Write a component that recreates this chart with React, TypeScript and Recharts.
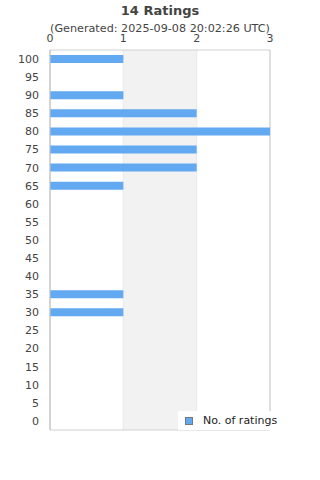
import React from "react";
import {
  BarChart,
  Bar,
  XAxis,
  YAxis,
  CartesianGrid,
  ReferenceArea,
} from "recharts";

const ratingBins = [
  "100", "95", "90", "85", "80", "75", "70", "65", "60", "55", "50",
  "45", "40", "35", "30", "25", "20", "15", "10", "5", "0",
];
const ratingCounts = [1, 0, 1, 2, 3, 2, 2, 1, 0, 0, 0, 0, 0, 1, 1, 0, 0, 0, 0, 0, 0];
const countTicks = [0, 1, 2, 3];

const data = ratingBins.map((bin, i) => ({ bin, count: ratingCounts[i] }));

const BAR = "#62a9f2";
const FONT = "'DejaVu Sans', sans-serif";

const LegendBox = () => (
  <div
    style={{
      position: "absolute",
      left: 178,
      top: 411,
      background: "#fff",
      width: 102,
      height: 19,
      display: "flex",
      alignItems: "center",
      fontFamily: FONT,
      fontSize: 11,
      color: "#222",
    }}
  >
    <span
      style={{
        display: "inline-block",
        width: 6,
        height: 6,
        background: BAR,
        border: "1px solid #777",
        marginLeft: 7,
        marginRight: 10,
      }}
    />
    No. of ratings
  </div>
);

export default function App() {
  return (
    <div style={{ position: "absolute", left: 0, top: 0, width: 320, height: 480, background: "#fff" }}>
      <div
        style={{
          position: "absolute",
          left: 0,
          top: 3,
          width: 320,
          textAlign: "center",
          fontFamily: FONT,
          fontWeight: "bold",
          fontSize: 13,
          color: "#444",
        }}
      >
        14 Ratings
      </div>
      <div
        style={{
          position: "absolute",
          left: 0,
          top: 22,
          width: 320,
          textAlign: "center",
          fontFamily: FONT,
          fontSize: 11.2,
          color: "#444",
          zIndex: 2,
        }}
      >
        (Generated: 2025-09-08 20:02:26 UTC)
      </div>
      <BarChart
        width={320}
        height={480}
        data={data}
        layout="vertical"
        margin={{ top: 38, right: 50, bottom: 50, left: 0 }}
        style={{ fontFamily: FONT }}
      >
        <ReferenceArea x1={1} x2={2} fill="#f2f2f2" fillOpacity={1} stroke="none" />
        <CartesianGrid horizontal={false} stroke="#dddddd" />
        <ReferenceArea x1={0} x2={3} fill="none" stroke="#d0d0d0" />
        <XAxis
          type="number"
          orientation="top"
          domain={[0, 3]}
          ticks={countTicks}
          height={12}
          axisLine={false}
          tickLine={false}
          tickSize={5}
          tickMargin={3}
          tick={{ fontSize: 11, fill: "#444" }}
        />
        <YAxis
          type="category"
          dataKey="bin"
          width={50}
          axisLine={{ stroke: "#c8c8c8" }}
          tickLine={false}
          tickSize={0}
          tickMargin={11}
          tick={{ fontSize: 11, fill: "#444" }}
        />
        <Bar dataKey="count" fill={BAR} barSize={8} isAnimationActive={false} />
      </BarChart>
      <LegendBox />
    </div>
  );
}
